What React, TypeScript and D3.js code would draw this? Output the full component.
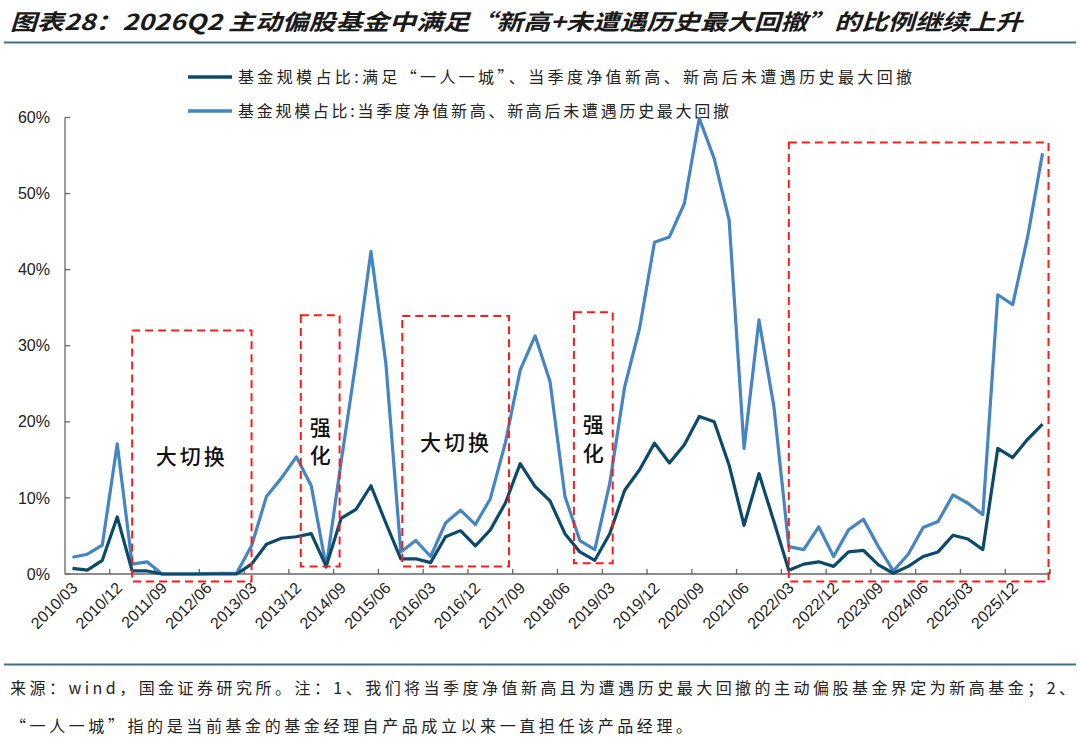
import * as d3 from "d3";

// quarterly dates 2010/03 .. 2026/06
const quarters: string[] = [];
for (let y = 2010; y <= 2026; y++) {
  for (const m of ["03", "06", "09", "12"]) {
    if (y === 2026 && (m === "09" || m === "12")) continue;
    quarters.push(`${y}/${m}`);
  }
}

// 基金规模占比:满足“一人一城”、当季度净值新高、新高后未遭遇历史最大回撤 (%)
const oneManSeries = [
  0.75, 0.5, 1.8, 7.5, 0.4, 0.4, 0, 0, 0, 0, 0, 0,
  1.3, 3.9, 4.7, 4.9, 5.3, 1.0, 7.3, 8.5, 11.6, 6.7, 2.0, 2.0,
  1.5, 4.9, 5.7, 3.7, 5.8, 9.3, 14.5, 11.5, 9.6, 5.3, 2.9, 1.8,
  5.3, 11.0, 13.7, 17.2, 14.6, 17.0, 20.7, 20.0, 14.3, 6.4, 13.2, 6.9,
  0.5, 1.3, 1.6, 1.0, 2.9, 3.1, 1.2, 0.1, 1.0, 2.3, 2.9, 5.1,
  4.6, 3.2, 16.5, 15.3, 17.7, 19.7,
];

// 基金规模占比:当季度净值新高、新高后未遭遇历史最大回撤 (%)
const allSeries = [
  2.2, 2.6, 3.8, 17.1, 1.3, 1.6, 0, 0, 0, 0.05, 0.1, 0.1,
  3.7, 10.2, 12.6, 15.4, 11.6, 0.9, 14.7, 28.0, 42.4, 27.7, 2.9, 4.4,
  2.3, 6.7, 8.4, 6.5, 9.9, 17.2, 26.8, 31.3, 25.3, 10.2, 4.4, 3.2,
  11.9, 24.6, 32.3, 43.6, 44.3, 48.7, 59.9, 54.6, 46.5, 16.5, 33.4, 22.0,
  3.6, 3.2, 6.2, 2.3, 5.8, 7.2, 3.6, 0.4, 2.6, 6.1, 6.9, 10.4,
  9.3, 7.8, 36.7, 35.4, 44.3, 55.3,
];

const yTicks = [0, 10, 20, 30, 40, 50, 60];

// highlighted periods: [start index, end index, top %, bottom %]
const boxes = [
  [4.0, 12.0, 32, -1],
  [15.3, 17.9, 34, 1],
  [22.1, 29.25, 33.9, 1],
  [33.6, 36.2, 34.4, 1.4],
  [48.0, 65.4, 56.7, -1],
];

// box labels: [index, %, text]
const boxLabels: [number, number, string][] = [
  [8.0, 15.4, "大切换"],
  [16.6, 19.2, "强"],
  [16.6, 15.5, "化"],
  [25.7, 17.3, "大切换"],
  [34.9, 19.6, "强"],
  [34.9, 15.8, "化"],
];

const DARK = "#0b4a6b";
const LIGHT = "#4585c4";
const CJK = "'Noto Sans CJK SC', sans-serif";
const LATIN = "'Liberation Sans', Arial, sans-serif";

export default function App() {
  const width = 1080;
  const height = 742;
  const plot = { left: 65, right: 1050, top: 117.5, bottom: 574 };

  const x = d3.scaleLinear().domain([-0.5, quarters.length - 0.5]).range([plot.left, plot.right]);
  const y = d3.scaleLinear().domain([0, 60]).range([plot.bottom, plot.top]);

  const line = d3
    .line<number>()
    .x((_, i) => x(i))
    .y((d) => y(d));

  const tickBounds = d3.range(2.5, quarters.length, 3).concat([quarters.length - 0.5]);
  const labelIdx = d3.range(0, quarters.length - 1, 3);

  return (
    <svg
      width={width}
      height={height}
      style={{ position: "absolute", left: 0, top: 0, background: "#fff" }}
    >
      <text
        x={10}
        y={30}
        fontFamily={CJK}
        fontSize={22}
        fontWeight={700}
        fontStyle="italic"
        fill="#1a1a1a"
        textLength={1012}
        lengthAdjust="spacingAndGlyphs"
      >
        图表28：2026Q2 主动偏股基金中满足“新高+未遭遇历史最大回撤”的比例继续上升
      </text>
      <line x1={4} x2={1076} y1={42.5} y2={42.5} stroke="#3f6f8e" strokeWidth={2} />

      {/* legend */}
      <line x1={188} x2={232} y1={77} y2={77} stroke={DARK} strokeWidth={3.5} />
      <text x={238} y={83} fontFamily={CJK} fontSize={16} fill="#222" textLength={674} lengthAdjust="spacing">
        基金规模占比:满足“一人一城”、当季度净值新高、新高后未遭遇历史最大回撤
      </text>
      <line x1={188} x2={232} y1={111} y2={111} stroke={LIGHT} strokeWidth={3.5} />
      <text x={238} y={117} fontFamily={CJK} fontSize={16} fill="#222" textLength={491} lengthAdjust="spacing">
        基金规模占比:当季度净值新高、新高后未遭遇历史最大回撤
      </text>

      {/* axes */}
      <line x1={plot.left} x2={plot.left} y1={plot.top} y2={plot.bottom} stroke="#666" strokeWidth={1.3} />
      <line x1={plot.left} x2={plot.right} y1={plot.bottom} y2={plot.bottom} stroke="#666" strokeWidth={1.3} />
      {yTicks.map((t) => (
        <g key={t}>
          <line x1={plot.left} x2={plot.left + 5} y1={y(t)} y2={y(t)} stroke="#666" strokeWidth={1.3} />
          <text
            x={plot.left - 15}
            y={y(t)}
            dy="0.35em"
            textAnchor="end"
            fontFamily={LATIN}
            fontSize={16}
            fill="#222"
          >
            {t}%
          </text>
        </g>
      ))}
      {tickBounds.map((b) => (
        <line key={b} x1={x(b)} x2={x(b)} y1={plot.bottom} y2={plot.bottom - 5} stroke="#666" strokeWidth={1.3} />
      ))}
      {labelIdx.map((i) => (
        <text
          key={i}
          transform={`translate(${x(i) + 6},${plot.bottom + 15}) rotate(-45)`}
          textAnchor="end"
          fontFamily={LATIN}
          fontSize={16}
          fill="#222"
        >
          {quarters[i]}
        </text>
      ))}

      {/* series */}
      <path d={line(allSeries) ?? ""} fill="none" stroke={LIGHT} strokeWidth={3.2} strokeLinejoin="round" />
      <path d={line(oneManSeries) ?? ""} fill="none" stroke={DARK} strokeWidth={3.2} strokeLinejoin="round" />

      {/* highlighted periods */}
      {boxes.map(([a, b, top, bot], k) => (
        <rect
          key={k}
          x={x(a)}
          y={y(top)}
          width={x(b) - x(a)}
          height={y(bot) - y(top)}
          fill="none"
          stroke="#ff1a1a"
          strokeWidth={2}
          strokeDasharray="8 5"
        />
      ))}
      {boxLabels.map(([i, v, s], k) => (
        <text
          key={k}
          x={x(i)}
          y={y(v)}
          dy="0.35em"
          textAnchor="middle"
          fontFamily={CJK}
          fontSize={21}
          fontWeight={500}
          letterSpacing={s.length > 1 ? 3 : 0}
          fill="#111"
        >
          {s}
        </text>
      ))}

      <line x1={4} x2={1076} y1={664.5} y2={664.5} stroke="#3f6f8e" strokeWidth={2} />
      <text x={10} y={694} fontFamily={CJK} fontSize={16} fill="#222" textLength={1065} lengthAdjust="spacing">
        来源：wind，国金证券研究所。注：1、我们将当季度净值新高且为遭遇历史最大回撤的主动偏股基金界定为新高基金；2、
      </text>
      <text x={10} y={732} fontFamily={CJK} fontSize={16} fill="#222" textLength={682} lengthAdjust="spacing">
        “一人一城”指的是当前基金的基金经理自产品成立以来一直担任该产品经理。
      </text>
    </svg>
  );
}
